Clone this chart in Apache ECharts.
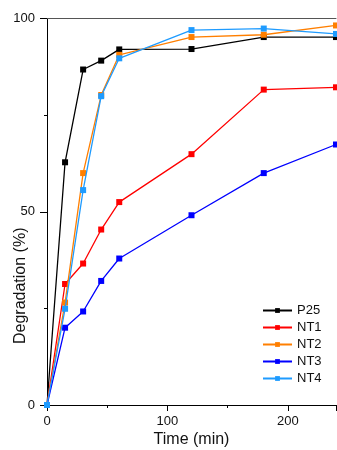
<!DOCTYPE html>
<html lang="en" style="height: 100%">
<head>
  <meta charset="utf-8">
</head>
<body style="height: 100%; margin: 0">
  <div id="container" style="width: 337px; height: 450px"></div>

  <script type="text/javascript" src="https://cdn.jsdelivr.net/npm/echarts@6/dist/echarts.min.js"></script>
  <script type="text/javascript">
    // sampling times (min)
    var times = [0, 15, 30, 45, 60, 120, 180, 240];
    // degradation (%)
    var p25 = [0, 62.8, 86.8, 89.1, 92.0, 92.1, 95.2, 95.2];
    var nt1 = [0, 31.3, 36.6, 45.4, 52.5, 64.9, 81.6, 82.2];
    var nt2 = [0, 26.5, 60.0, 80.2, 90.6, 95.2, 95.8, 98.2];
    var nt3 = [0, 20.0, 24.2, 32.1, 37.9, 49.1, 60.0, 67.4];
    var nt4 = [0, 24.9, 55.6, 79.9, 89.7, 97.0, 97.4, 96.0];
    var names = ['P25', 'NT1', 'NT2', 'NT3', 'NT4'];
    var colors = ['#000000', '#ff0000', '#ff7f00', '#0000ff', '#1e9bff'];

    var dom = document.getElementById('container');
    var myChart = echarts.init(dom, null, { renderer: 'canvas' });

    function pairs(vals) {
      return times.map(function (t, i) { return [t, vals[i]]; });
    }

    var font = 'Liberation Sans, Arial, sans-serif';
    var allVals = [p25, nt1, nt2, nt3, nt4];
    var series = names.map(function (n, i) {
      return {
        name: n,
        type: 'line',
        data: pairs(allVals[i]),
        symbol: 'rect',
        symbolSize: 6,
        color: colors[i],
        lineStyle: { width: 1.3, color: colors[i] },
        itemStyle: { color: colors[i] },
        z: 2 + i
      };
    });

    var option = {
      animation: false,
      textStyle: { fontFamily: font },
      grid: { left: 47, right: 1, top: 18.5, bottom: 45, containLabel: false, outerBoundsMode: 'none' },
      legend: {
        orient: 'vertical',
        left: 257,
        top: 298,
        itemWidth: 29,
        itemHeight: 6,
        itemGap: 2,
        textStyle: { fontFamily: font, fontSize: 13, color: '#111', lineHeight: 15 },
        data: names
      },
      xAxis: [
        {
          type: 'value',
          min: 0,
          max: 240,
          interval: 100,
          name: 'Time (min)',
          nameLocation: 'middle',
          nameGap: 27,
          nameMoveOverlap: false,
          nameTextStyle: { fontFamily: font, fontSize: 16, color: '#111' },
          axisLine: { onZero: false, lineStyle: { color: '#000', width: 1 } },
          axisTick: { show: true, inside: false, length: 6, lineStyle: { color: '#000', width: 1 } },
          minorTick: { show: true, splitNumber: 2, length: 3, lineStyle: { color: '#000', width: 1 } },
          axisLabel: { fontFamily: font, fontSize: 13, color: '#111', margin: 10, showMaxLabel: false },
          splitLine: { show: false }
        },
        {
          type: 'value',
          position: 'top',
          min: 0,
          max: 240,
          axisLine: { show: true, onZero: false, lineStyle: { color: '#555', width: 1 } },
          axisTick: { show: false },
          axisLabel: { show: false },
          splitLine: { show: false }
        }
      ],
      yAxis: {
        type: 'value',
        min: 0,
        max: 100,
        interval: 50,
        name: 'Degradation (%)',
        nameLocation: 'middle',
        nameGap: 18,
        nameMoveOverlap: false,
        nameTextStyle: { fontFamily: font, fontSize: 16, color: '#111', padding: [0, 148, 0, 0] },
        axisLine: { show: true, onZero: false, lineStyle: { color: '#000', width: 1 } },
        axisTick: { show: true, inside: false, length: 7, lineStyle: { color: '#000', width: 1 } },
        minorTick: { show: true, splitNumber: 2, length: 3, lineStyle: { color: '#000', width: 1 } },
        axisLabel: { fontFamily: font, fontSize: 13, color: '#111', margin: 12 },
        splitLine: { show: false }
      },
      series: series
    };

    myChart.setOption(option);
    window.addEventListener('resize', myChart.resize);
  </script>
</body>
</html>
